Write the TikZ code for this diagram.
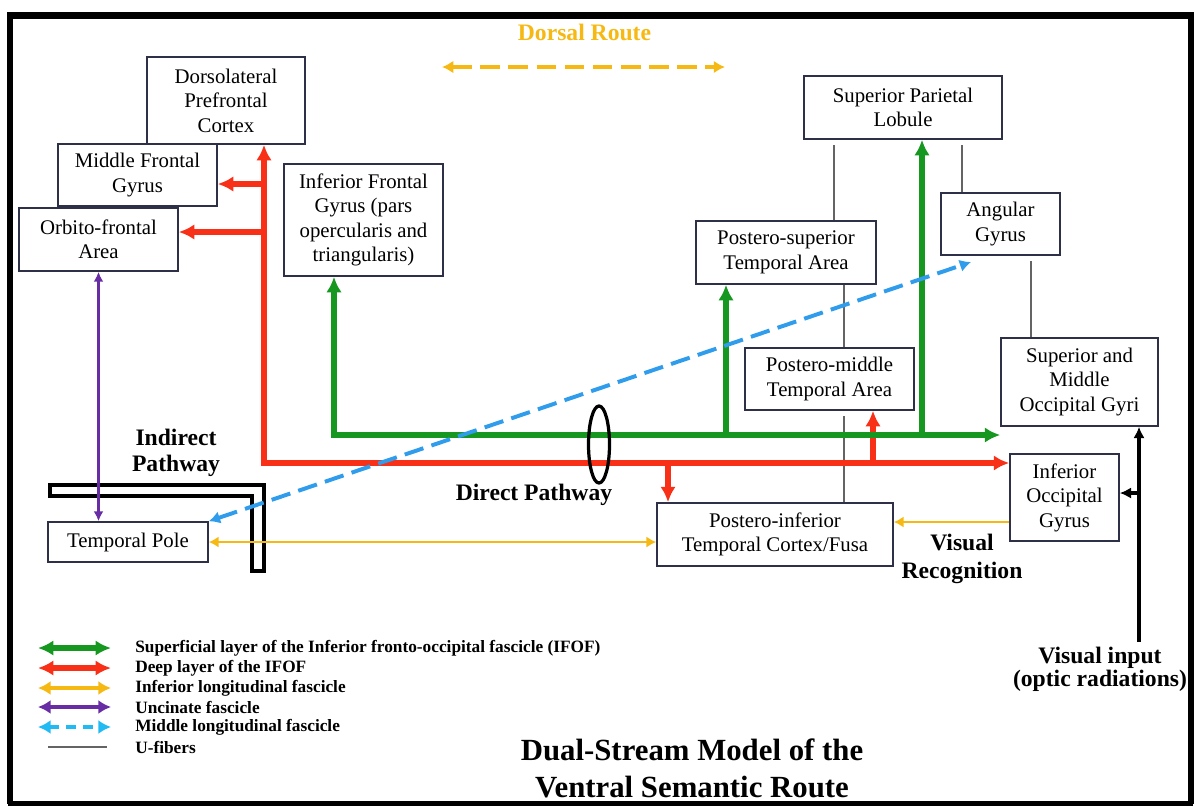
\documentclass[tikz,border=0pt]{standalone}
\usepackage{fontspec}
\setmainfont{Liberation Serif}
\usepackage{xcolor}
\usepackage{tikz}
\usetikzlibrary{arrows.meta,positioning,shapes.geometric,calc}

\definecolor{boxline}{RGB}{45,48,70}
\definecolor{ifofg}{RGB}{22,152,32}
\definecolor{ifofr}{RGB}{248,48,24}
\definecolor{ilf}{RGB}{246,184,18}
\definecolor{unc}{RGB}{104,44,164}
\definecolor{mlf}{RGB}{48,156,236}
\definecolor{ufib}{RGB}{100,100,100}

\begin{document}
\begin{tikzpicture}[
    x=0.025cm, y=-0.025cm,
    box/.style={draw=boxline, line width=1.1pt, align=center, inner sep=0pt, font=\fontsize{14.8}{17.4}\selectfont},
    lbl/.style={align=center, inner sep=0pt, font=\fontsize{16.8}{19.9}\selectfont\bfseries},
    legtext/.style={anchor=west, inner sep=0pt, font=\fontsize{12.3}{14}\selectfont\bfseries},
    % Edge styles
    gedge/.style={ifofg, line width=3.6pt, >={Latex[length=11pt, width=11pt]}, ->},
    redge/.style={ifofr, line width=3.6pt, >={Latex[length=11pt, width=11pt]}, ->},
    yedge/.style={ilf, line width=2.1pt, >={Latex[length=7pt, width=8pt]}, ->},
    pedge/.style={unc, line width=1.8pt, >={Latex[length=7pt, width=7pt]}, <->},
    bedge/.style={mlf, line width=2.8pt, dash pattern=on 14pt off 6pt, >={Latex[length=8pt, width=9pt]}, <->},
    dedge/.style={ilf, line width=2.8pt, dash pattern=on 14pt off 6pt, >={Latex[length=8pt, width=9pt]}, <->},
    uedge/.style={ufib, line width=1pt},
    vedge/.style={black, line width=2.5pt, >={Latex[length=8pt, width=8pt]}, ->},
    legswatch/.style={line width=3pt, >={Latex[length=9pt, width=10pt]}},
    ]

    \useasboundingbox (0,0) rectangle (1195,805);

    % Outer frame
    \draw[line width=4.6pt] (10,803.5) -- (10,15.5) -- (1191,15.5) -- (1191,803.5);
    \draw[line width=3.2pt] (8.4,803.5) -- (1192.6,803.5);

    % Frontal regions
    \node[box, minimum width=3.95cm, minimum height=2.175cm] (dlpfc) at (226,100.5) {Dorsolateral\\Prefrontal\\Cortex};
    \node[box, minimum width=3.975cm, minimum height=1.55cm] (mfg) at (137.5,175) {Middle Frontal\\Gyrus};
    \node[box, minimum width=3.975cm, minimum height=1.575cm] (ofa) at (98.5,239.5) {Orbito-frontal\\Area};
    \node[box, minimum width=3.975cm, minimum height=2.8cm] (ifg) at (363.5,220) {Inferior Frontal\\Gyrus (pars\\opercularis and\\triangularis)};

    % Parietal and temporal regions
    \node[box, minimum width=4.95cm, minimum height=1.575cm] (spl) at (903,107.5) {Superior Parietal\\Lobule};
    \node[box, minimum width=2.975cm, minimum height=1.55cm] (ag) at (1000.5,224) {Angular\\Gyrus};
    \node[box, minimum width=4.5cm, minimum height=1.575cm] (psta) at (786,252.5) {Postero-superior\\Temporal Area};
    \node[box, minimum width=4.225cm, minimum height=1.55cm] (pmta) at (829.5,379) {Postero-middle\\Temporal Area};
    \node[box, minimum width=5.9cm, minimum height=1.575cm] (pitc) at (775,534.5) {Postero-inferior\\Temporal Cortex/Fusa};
    \node[box, minimum width=4cm, minimum height=1cm] (tp) at (128,542) {Temporal Pole};

    % Occipital regions
    \node[box, minimum width=3.925cm, minimum height=2.2cm] (smog) at (1079.5,382) {Superior and\\Middle\\Occipital Gyri};
    \node[box, minimum width=2.725cm, minimum height=2.175cm] (iog) at (1064.5,497.5) {Inferior\\Occipital\\Gyrus};

    % Indirect pathway bracket
    \draw[line width=2.6pt] (50,485) -- (264,485) -- (264,571) -- (252,571) -- (252,496) -- (50,496) -- cycle;

    % Labels
    \node[lbl, text=ilf] (dorsal) at (584.5,32) {Dorsal Route};
    \node[lbl, font=\fontsize{16.8}{18.5}\selectfont\bfseries] (indirect) at (176,453) {Indirect\\Pathway};
    \node[lbl] (direct) at (534,495) {Direct Pathway};
    \node[lbl] (visrec) at (962,559) {Visual\\Recognition};
    \node[lbl, font=\fontsize{16.8}{16.5}\selectfont\bfseries] (visin) at (1100,669) {Visual input\\(optic radiations)};
    \node[align=center, inner sep=0pt, font=\fontsize{21.9}{26.3}\selectfont\bfseries] (title) at (692,768) {Dual-Stream Model of the\\Ventral Semantic Route};

    % Dorsal route arrow
    \coordinate (drl) at (442,67);
    \coordinate (drr) at (725,67);
    \draw[dedge] (drl) -- (drr);

    % U-fibers (grey)
    \coordinate (u1) at (834,0);
    \coordinate (u2) at (962,0);
    \coordinate (u3) at (1031,0);
    \coordinate (u4) at (844,0);
    \draw[uedge, shorten <=4pt] (spl.south -| u1) -- (psta.north -| u1);
    \draw[uedge, shorten <=4pt] (spl.south -| u2) -- (ag.north -| u2);
    \draw[uedge, shorten <=4pt] (ag.south -| u3) -- (smog.north -| u3);
    \draw[uedge] (psta.south -| u4) -- (pmta.north -| u4);
    \draw[uedge, shorten <=4pt] (pmta.south -| u4) -- (pitc.north -| u4);

    % Deep layer of the IFOF (red)
    \coordinate (rc) at (264,463);
    \draw[redge, <->] (rc |- dlpfc.south) -- (rc) -- (rc -| iog.west);
    \coordinate (rm) at (264,184);
    \draw[redge] (rm) -- (rm -| mfg.east);
    \coordinate (ro) at (264,232);
    \draw[redge] (ro) -- (ro -| ofa.east);
    \coordinate (rd) at (668,463);
    \draw[redge] (rd) -- (rd |- pitc.north);
    \coordinate (ru) at (873,463);
    \draw[redge] (ru) -- (ru |- pmta.south);

    % Superficial layer of the IFOF (green)
    \coordinate (gc) at (334,435);
    \draw[gedge, <->] (gc |- ifg.south) -- (gc) -- (gc -| smog.west);
    \coordinate (gp) at (726,435);
    \draw[gedge] (gp) -- (gp |- psta.south);
    \coordinate (gs) at (922,435);
    \draw[gedge] (gs) -- (gs |- spl.south);

    % Inferior longitudinal fascicle (yellow)
    \draw[yedge, <->] (tp.east) -- (tp.east -| pitc.west);
    \coordinate (yi) at (0,522);
    \draw[yedge] (iog.west |- yi) -- (pitc.east |- yi);

    % Uncinate fascicle (purple)
    \draw[pedge] (ofa.south) -- (ofa.south |- tp.north);

    % Middle longitudinal fascicle (blue, dashed)
    \coordinate (mlfend) at (971,262);
    \draw[bedge] (tp.north east) -- (mlfend);

    % Direct pathway ellipse
    \node[ellipse, draw, line width=2.3pt, minimum width=0.525cm, minimum height=1.925cm, inner sep=0pt] (dp) at (599,444.5) {};

    % Visual input (black)
    \coordinate (vb) at (1139,493);
    \draw[vedge, shorten <=3pt] (visin.north -| vb) -- (vb |- smog.south);
    \draw[vedge] (vb) -- (vb -| iog.east);

    % Legend
    \node[legtext] (lg1) at (135,648) {Superficial layer of the Inferior fronto-occipital fascicle (IFOF)};
    \node[legtext] (lg2) at (135,668) {Deep layer of the IFOF};
    \node[legtext] (lg3) at (135,688) {Inferior longitudinal fascicle};
    \node[legtext] (lg4) at (135,707) {Uncinate fascicle};
    \node[legtext] (lg5) at (135,727) {Middle longitudinal fascicle};
    \node[legtext] (lg6) at (135,747) {U-fibers};
    \draw[gedge, <->] ([xshift=-2.425cm]lg1.west) -- ([xshift=-0.6cm]lg1.west);
    \draw[redge, <->, line width=4.2pt] ([xshift=-2.425cm]lg2.west) -- ([xshift=-0.6cm]lg2.west);
    \draw[yedge, legswatch, <->] ([xshift=-2.425cm]lg3.west) -- ([xshift=-0.6cm]lg3.west);
    \draw[pedge, legswatch] ([xshift=-2.425cm]lg4.west) -- ([xshift=-0.6cm]lg4.west);
    \draw[bedge, legswatch, mlf!70!cyan, dash pattern=on 7pt off 5pt] ([xshift=-2.425cm]lg5.west) -- ([xshift=-0.6cm]lg5.west);
    \draw[uedge, line width=1.8pt] ([xshift=-2.175cm]lg6.west) -- ([xshift=-0.7cm]lg6.west);

\end{tikzpicture}
\end{document}
